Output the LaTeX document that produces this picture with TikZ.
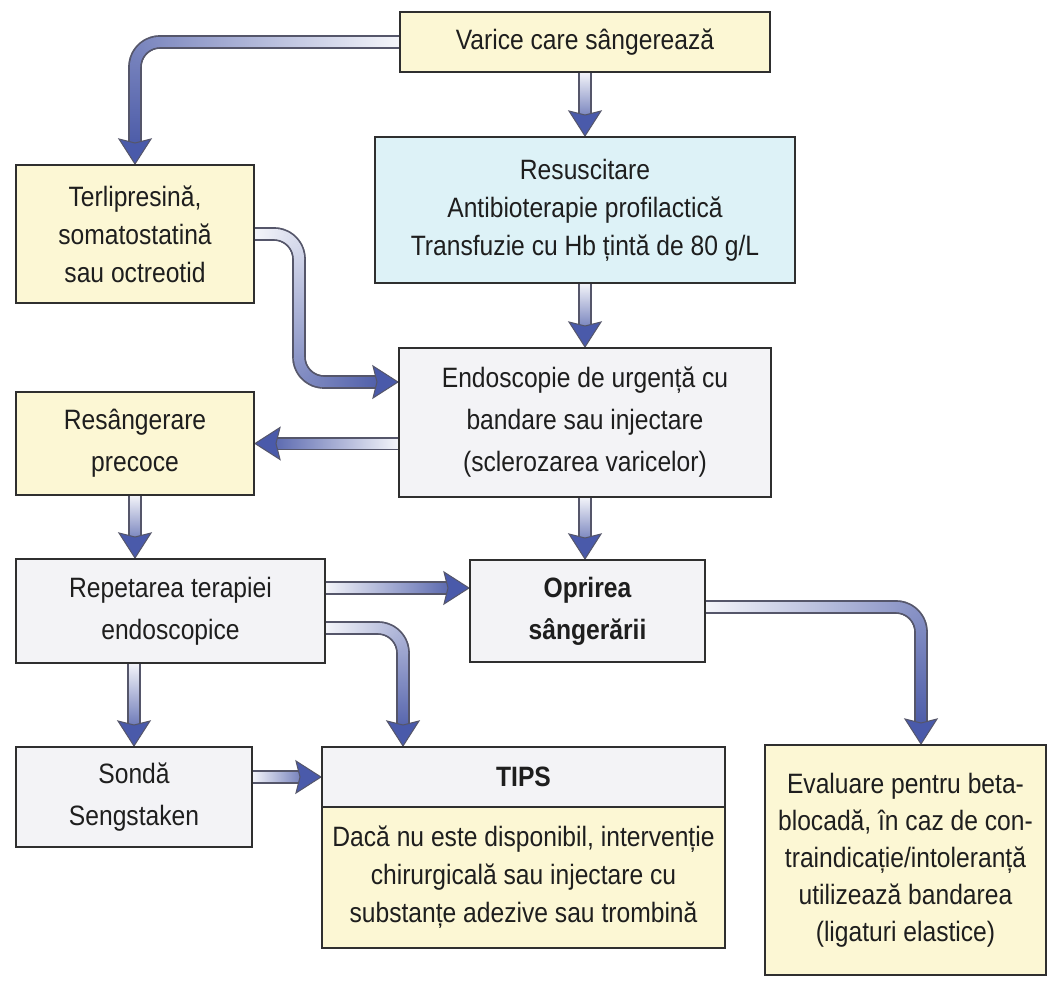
\documentclass[tikz,border=0pt]{standalone}
\usepackage{fontspec}
\setmainfont{Liberation Sans}[FakeStretch=0.88]
\usetikzlibrary{decorations.markings}
\definecolor{yellowfill}{HTML}{FCF7D4}
\definecolor{cyanfill}{HTML}{DDF2F7}
\definecolor{greyfill}{HTML}{F3F3F6}
\definecolor{boxedge}{HTML}{2F2F2F}
\definecolor{textcol}{HTML}{1E1E1E}
\definecolor{tubeedge}{HTML}{55566A}
\definecolor{tubeblue}{HTML}{4454A4}
\definecolor{tubewhite}{HTML}{F4F5FA}
\definecolor{headfill}{HTML}{4A5AAA}
\pgfdeclarelayer{bgzero}
\pgfdeclarelayer{bgtube}
\pgfsetlayers{bgzero,bgtube,main}
\newcommand\tubeouter{%
  \pgfsetcornersarced{\pgfpointorigin}%
  \pgfsetfillcolor{tubeedge}%
  \pgfpathrectangle{\pgfpoint{-0.8pt}{-6.8pt}}{\pgfpoint{1.6pt}{13.6pt}}%
  \pgfusepath{fill}}
\newcommand\tubeinner{%
  \pgfsetcornersarced{\pgfpointorigin}%
  \pgfmathsetmacro\tubepct{min(100,max(0,(\pgfkeysvalueof{/pgf/decoration/mark info/distance from start})/(\pgfdecoratedpathlength)*100))}%
  \pgfsetfillcolor{tubeblue!\tubepct!tubewhite}%
  \pgfpathrectangle{\pgfpoint{-0.8pt}{-5pt}}{\pgfpoint{1.6pt}{10pt}}%
  \pgfusepath{fill}}
\newcommand\tubehead{%
  \pgfsetcornersarced{\pgfpointorigin}%
  \pgfsetfillcolor{headfill}\pgfsetstrokecolor{tubeedge}\pgfsetlinewidth{1pt}%
  \pgfsetmiterjoin
  \pgfpathmoveto{\pgfpointorigin}%
  \pgfpathlineto{\pgfpoint{-25pt}{16pt}}%
  \pgfpathlineto{\pgfpoint{-21pt}{0pt}}%
  \pgfpathlineto{\pgfpoint{-25pt}{-16pt}}%
  \pgfpathclose
  \pgfusepath{fill,stroke}}
\tikzset{
  box/.style={draw=boxedge, line width=2pt, align=center, inner sep=0pt, text=textcol,
    font=\fontsize{28pt}{38pt}\selectfont},
  yel/.style={box, fill=yellowfill},
  cyanbox/.style={box, fill=cyanfill},
  greybox/.style={box, fill=greyfill},
  tube/.style={draw=none, rounded corners=25pt,
    postaction={decorate, decoration={markings,
      mark=between positions 0 and -21pt step 1pt with {\tubeouter}}},
    postaction={decorate, decoration={markings,
      mark=between positions 0 and -21pt step 1pt with {\tubeinner}}},
    postaction={decorate, decoration={markings,
      mark=at position 1 with {\tubehead}}}
  }
}
\begin{document}
\begin{tikzpicture}[x=1pt,y=-1pt]
\begin{pgfonlayer}{bgzero}
\fill[white] (0,0) rectangle (1049,980);
\end{pgfonlayer}
\useasboundingbox (0,0) rectangle (1049,980);

\node[yel, minimum width=370pt, minimum height=60pt] (varice) at (585,42) {Varice care sângerează};
\node[cyanbox, minimum width=420pt, minimum height=146pt] (resus) at (585,210)
  {Resuscitare\\Antibioterapie profilactică\\Transfuzie cu Hb țintă de 80 g/L};
\node[yel, minimum width=238pt, minimum height=138pt] (terli) at (135,234)
  {Terlipresină,\\somatostatină\\sau octreotid};
\node[greybox, minimum width=372pt, minimum height=149pt, font=\fontsize{28pt}{42pt}\selectfont] (endo) at (585,422.5)
  {Endoscopie de urgență cu\\bandare sau injectare\\(sclerozarea varicelor)};
\node[yel, minimum width=238pt, minimum height=103pt, font=\fontsize{28pt}{42pt}\selectfont] (resang) at (135,443.5)
  {Resângerare\\precoce};
\node[greybox, minimum width=309pt, minimum height=104pt, font=\fontsize{28pt}{42pt}\selectfont] (repet) at (170.5,611)
  {Repetarea terapiei\\endoscopice};
\node[greybox, minimum width=235pt, minimum height=102pt, font=\bfseries\fontsize{28pt}{42pt}\selectfont] (oprire) at (587.5,611)
  {Oprirea\\sângerării};
\node[greybox, minimum width=236pt, minimum height=100pt, font=\fontsize{28pt}{42pt}\selectfont] (sonda) at (134,797)
  {Sondă\\Sengstaken};
\node[greybox, minimum width=403pt, minimum height=60pt, font=\bfseries\fontsize{28pt}{38pt}\selectfont] (tipshead) at (523.5,777) {TIPS};
\node[yel, minimum width=403pt, minimum height=141pt] (tipsbody) at (523.5,877.5)
  {Dacă nu este disponibil, intervenție\\chirurgicală sau injectare cu\\substanțe adezive sau trombină};
\node[yel, minimum width=281pt, minimum height=230pt, font=\fontsize{28pt}{37pt}\selectfont] (eval) at (905.5,860)
  {Evaluare pentru beta-\\blocadă, în caz de con-\\traindicație/intoleranță\\utilizează bandarea\\(ligaturi elastice)};

\begin{pgfonlayer}{bgtube}
\draw[tube] (varice.west) -| (terli.north);
\draw[tube] (varice.south) -- (resus.north);
\draw[tube] (resus.south) -- (endo.north);
\draw[tube] (terli.east) -| (299,382) -- ([yshift=40.5pt]endo.west);
\draw[tube] (endo.west |- resang.east) -- (resang.east);
\draw[tube] (resang.south) -- (resang.south |- repet.north);
\draw[tube] (endo.south) -- (endo.south |- oprire.north);
\draw[tube] ([yshift=23pt]repet.east) -- ([yshift=23pt]oprire.west);
\draw[tube] ([yshift=-17pt]repet.east) -| ([xshift=-120.5pt]tipshead.north);
\draw[tube] (sonda.north |- repet.south) -- (sonda.north);
\draw[tube] (sonda.east |- tipshead.west) -- (tipshead.west);
\draw[tube] ([yshift=4pt]oprire.east) -| ([xshift=15.5pt]eval.north);
\end{pgfonlayer}
\end{tikzpicture}
\end{document}
